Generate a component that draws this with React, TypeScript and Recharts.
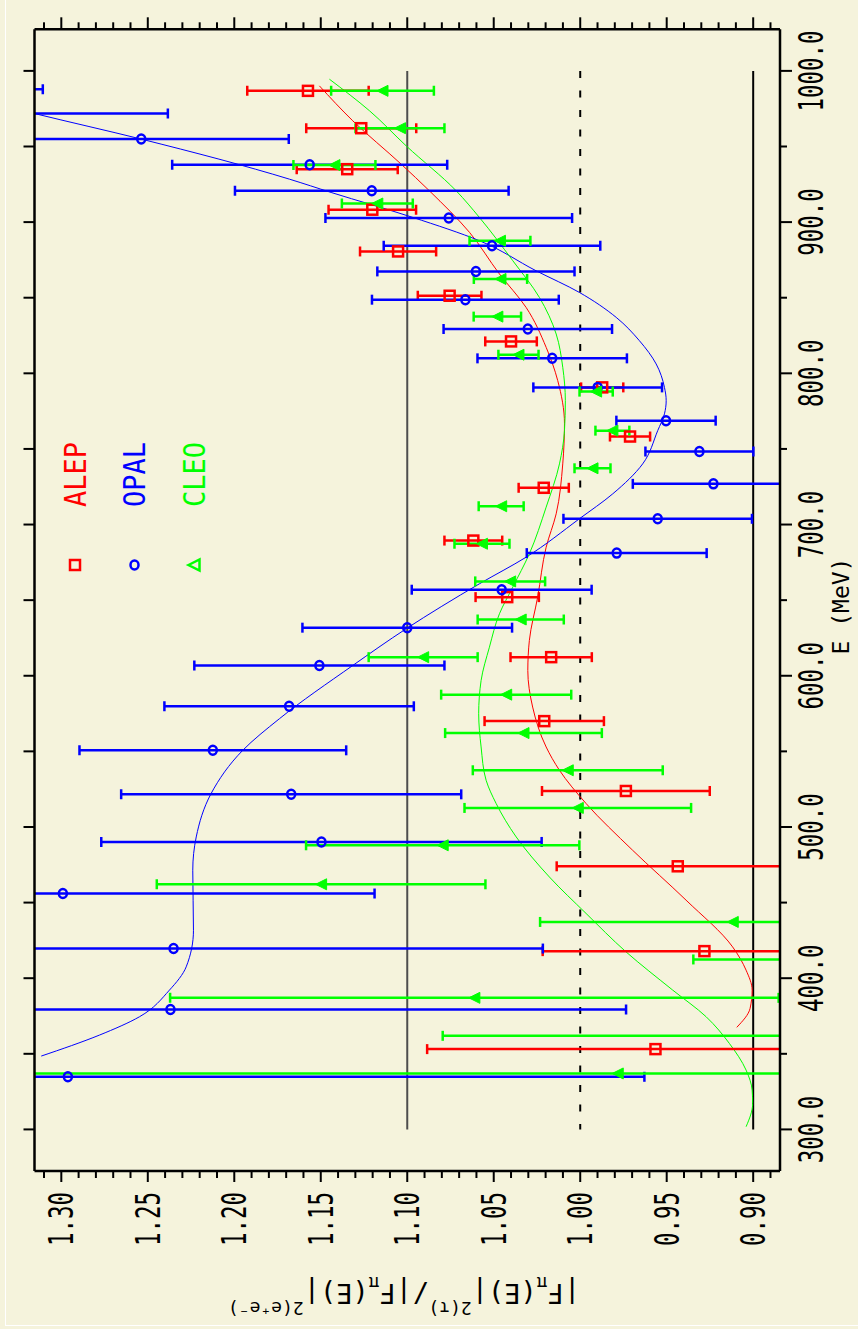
import React from 'react';
import { ComposedChart, XAxis, YAxis, Scatter, Line, ErrorBar, ReferenceLine } from 'recharts';

// the plot is drawn landscape (E along x) and then turned a quarter turn left
const W = 1329;
const H = 858;
const BG = '#f5f3dc';
const FONT = '"DejaVu Sans Mono", monospace';
const RED = '#ff0000';
const BLUE = '#0000ff';
const GREEN = '#00ff00';

// plot box inside the landscape chart
const PLOT = { left: 158, top: 34.5, width: 1141.7, height: 745.5 };

const E_TICKS = [300, 350, 400, 450, 500, 550, 600, 650, 700, 750, 800, 850, 900, 950, 1000];
const V_TICKS = [
  0.89, 0.9, 0.91, 0.92, 0.93, 0.94, 0.95, 0.96, 0.97, 0.98, 0.99, 1.0, 1.01, 1.02, 1.03, 1.04, 1.05,
  1.06, 1.07, 1.08, 1.09, 1.1, 1.11, 1.12, 1.13, 1.14, 1.15, 1.16, 1.17, 1.18, 1.19, 1.2, 1.21, 1.22,
  1.23, 1.24, 1.25, 1.26, 1.27, 1.28, 1.29, 1.3, 1.31
];

const SERIES = ['ALEP', 'OPAL', 'CLEO'];
const COLORS = [RED, BLUE, GREEN];

// ALEP
const ALEP_E = [986.8, 962.1, 935.0, 908.2, 880.6, 851.3, 821.1, 790.7, 758.2, 724.3, 689.4, 652.0, 612.3, 570.0, 523.8, 474.0, 417.9, 353.1];
const ALEP_V = [1.1574, 1.1266, 1.1347, 1.1202, 1.1053, 1.0755, 1.04, 0.9873, 0.9712, 1.0211, 1.0618, 1.0422, 1.0168, 1.0208, 0.9736, 0.9436, 0.9282, 0.9565];
const ALEP_ERR = [0.0351, 0.0318, 0.0292, 0.0253, 0.022, 0.0184, 0.0149, 0.0122, 0.0116, 0.0145, 0.0167, 0.0183, 0.0235, 0.0345, 0.0485, 0.07, 0.0935, 0.132];

// OPAL
const OPAL_E = [987.9, 971.8, 954.9, 937.9, 920.7, 902.7, 884.4, 867.4, 848.7, 829.3, 809.9, 790.7, 768.7, 748.3, 726.9, 703.8, 681.1, 656.9, 631.8, 606.8, 579.8, 550.7, 521.6, 490.1, 456.0, 419.6, 379.3, 334.8];
const OPAL_V = [1.4, 1.33, 1.2538, 1.1564, 1.1205, 1.076, 1.051, 1.0603, 1.0664, 1.0303, 1.0162, 0.9899, 0.9504, 0.9311, 0.923, 0.9552, 0.9789, 1.0454, 1.1, 1.1508, 1.1683, 1.2124, 1.1671, 1.1496, 1.2991, 1.2351, 1.2369, 1.2962];
const OPAL_ERR = [0.0893, 0.0916, 0.0853, 0.0795, 0.0791, 0.0713, 0.0626, 0.057, 0.054, 0.0487, 0.0432, 0.0372, 0.0287, 0.0312, 0.0466, 0.0545, 0.052, 0.052, 0.0606, 0.0723, 0.0721, 0.0771, 0.0983, 0.1273, 0.1802, 0.2135, 0.2634, 0.3333];

// CLEO
const CLEO_E = [986.8, 962.1, 937.7, 912.3, 887.7, 862.4, 837.5, 812.3, 787.9, 762.1, 737.2, 712.1, 687.3, 662.4, 637.2, 612.3, 587.5, 562.1, 537.5, 512.6, 487.9, 462.1, 437.2, 412.4, 387.0, 361.9, 337.0];
const CLEO_V = [1.1143, 1.1042, 1.1421, 1.1173, 1.0464, 1.0461, 1.0479, 1.0357, 0.9908, 0.9814, 0.9929, 1.0457, 1.0568, 1.0405, 1.0344, 1.0908, 1.0428, 1.0328, 1.0072, 1.0014, 1.0795, 1.1498, 0.9118, 0.86, 1.0612, 0.86, 0.9783];
const CLEO_ERR = [0.0297, 0.0257, 0.0237, 0.0205, 0.0176, 0.0154, 0.0137, 0.0116, 0.0096, 0.0098, 0.0104, 0.013, 0.0159, 0.0202, 0.0249, 0.0315, 0.0376, 0.0453, 0.0549, 0.0655, 0.079, 0.095, 0.1114, 0.0746, 0.1759, 0.2195, 0.36];

// fitted curves
const OPAL_FIT_E = [1000, 971.8, 954.9, 928.4, 919.6, 903.1, 887.7, 867.8, 853.5, 837.0, 821.6, 806.2, 790.7, 781.9, 773.2, 762.1, 740.1, 720.3, 703.8, 678.4, 660.8, 631.1, 606.8, 571.6, 550.7, 522.1, 493.4, 471.4, 431.7, 407.5, 392.1, 374.5, 362.4, 348.5];
const OPAL_FIT_V = [1.41, 1.3155, 1.2538, 1.1681, 1.144, 1.0968, 1.0583, 1.0255, 1.0005, 0.9792, 0.9658, 0.9561, 0.9513, 0.9503, 0.9513, 0.9552, 0.9639, 0.9812, 1.0005, 1.0313, 1.0583, 1.1006, 1.1315, 1.1739, 1.1951, 1.2134, 1.222, 1.224, 1.2236, 1.2278, 1.2375, 1.2548, 1.2779, 1.3116];
const ALEP_FIT_E = [990.1, 967.0, 938.3, 920.7, 893.2, 865.7, 843.6, 817.2, 795.2, 766.6, 740.1, 707.1, 685.0, 652.0, 623.4, 603.5, 579.3, 552.9, 537.5, 515.5, 484.6, 451.6, 420.7, 405.3, 392.1, 380.0, 367.5];
const ALEP_FIT_V = [1.1508, 1.1315, 1.1035, 1.0872, 1.064, 1.0467, 1.0313, 1.0197, 1.013, 1.0091, 1.0101, 1.0139, 1.0197, 1.0246, 1.0294, 1.0303, 1.0275, 1.0197, 1.012, 0.9966, 0.9697, 0.9388, 0.9119, 0.9041, 0.9006, 0.9018, 0.9095];
const CLEO_FIT_E = [994.5, 973.6, 950.4, 920.7, 903.1, 874.5, 850.2, 826.0, 804.0, 781.9, 762.1, 740.1, 711.5, 680.7, 658.6, 641.0, 618.9, 596.9, 574.9, 552.9, 530.9, 515.5, 493.4, 466.9, 442.8, 417.4, 392.1, 374.5, 356.9, 339.2, 326.0, 317.2, 301.8];
const CLEO_FIT_V = [1.145, 1.1218, 1.1006, 1.0717, 1.0583, 1.039, 1.0236, 1.0139, 1.0101, 1.0086, 1.0091, 1.012, 1.0197, 1.0294, 1.039, 1.0467, 1.0525, 1.0573, 1.0587, 1.0573, 1.0544, 1.0486, 1.037, 1.0178, 0.9966, 0.9735, 0.9465, 0.9272, 0.9138, 0.9041, 0.9006, 0.9003, 0.9041];

const toPoints = (es: number[], vs: number[], errs?: number[]) =>
  es.map((e, i) => ({ e, v: vs[i], err: errs ? errs[i] : 0 })).sort((a, b) => a.e - b.e);

const alep = toPoints(ALEP_E, ALEP_V, ALEP_ERR);
const opal = toPoints(OPAL_E, OPAL_V, OPAL_ERR);
const cleo = toPoints(CLEO_E, CLEO_V, CLEO_ERR);
const alepFit = toPoints(ALEP_FIT_E, ALEP_FIT_V);
const opalFit = toPoints(OPAL_FIT_E, OPAL_FIT_V);
const cleoFit = toPoints(CLEO_FIT_E, CLEO_FIT_V);

const isMajorV = (v: number) => Math.round(v * 100) % 5 === 0;

const Square = ({ cx, cy, color = RED }: any) => (
  <rect x={cx - 5} y={cy - 5} width={10} height={10} fill="none" stroke={color} strokeWidth={2.5} />
);
const Ring = ({ cx, cy, color = BLUE }: any) => (
  <ellipse cx={cx} cy={cy} rx={4.5} ry={4} fill="none" stroke={color} strokeWidth={2.5} />
);
const Tri = ({ cx, cy, color = GREEN, open = false }: any) => (
  <path
    d={`M${cx},${cy - 5.5}L${cx + 5.5},${cy + 5.5}L${cx - 5.5},${cy + 5.5}Z`}
    fill={open ? 'none' : color}
    stroke={color}
    strokeWidth={open ? 2.5 : 1}
  />
);

const bottomTick = (props: any) => {
  const { x, y, payload } = props;
  const major = payload.value % 100 === 0;
  return (
    <g>
      <line x1={x} y1={y} x2={x} y2={y + (major ? 12 : 7)} stroke="#000" strokeWidth={2} />
      {major && (
        <text transform={`translate(${x},${y + 43}) scale(0.66,1)`} textAnchor="middle" fontFamily={FONT} fontSize={34} fill="#000">
          {payload.value.toFixed(1)}
        </text>
      )}
    </g>
  );
};
const topTick = (props: any) => {
  const { x, y } = props;
  return <line x1={x} y1={y} x2={x} y2={y - 11} stroke="#000" strokeWidth={2} />;
};
const leftTick = (props: any) => {
  const { x, y, payload } = props;
  const major = isMajorV(payload.value);
  return (
    <g>
      <line x1={x} y1={y} x2={x - (major ? 11 : 7)} y2={y} stroke="#000" strokeWidth={2} />
      {major && (
        <text transform={`translate(${x - 21},${y + 12}) scale(0.66,1)`} textAnchor="end" fontFamily={FONT} fontSize={34} fill="#000">
          {payload.value.toFixed(2)}
        </text>
      )}
    </g>
  );
};
const rightTick = (props: any) => {
  const { x, y, payload } = props;
  const major = isMajorV(payload.value);
  return <line x1={x} y1={y} x2={x + (major ? 12 : 7)} y2={y} stroke="#000" strokeWidth={2} />;
};

const frame = { stroke: '#000', strokeWidth: 2.5 };
const axisIds = { xAxisId: 'e', yAxisId: 'v' };

export default function App() {
  return (
    <div style={{ position: 'absolute', left: 0, top: 0, width: H, height: W, overflow: 'hidden', background: BG }}>
      {/* error bars running past the frame are cut at it, as in the original */}
      <style>{`.recharts-scatter, .recharts-errorBars, .recharts-errorBar { clip-path: url(#plot-box-clip); }`}</style>
      <div
        style={{
          position: 'absolute',
          left: 0,
          top: 0,
          width: W,
          height: H,
          transformOrigin: '0 0',
          transform: `translateY(${W}px) rotate(-90deg)`
        }}
      >
        <ComposedChart width={W} height={H} margin={{ top: 14.5, right: 9.3, bottom: 18, left: 58 }}>
          <XAxis xAxisId="e" dataKey="e" type="number" orientation="bottom" domain={[272.5, 1027.5]} ticks={E_TICKS}
            interval={0} allowDataOverflow height={60} axisLine={frame} tickLine={false} tickSize={0} tickMargin={0} tick={bottomTick} />
          <XAxis xAxisId="et" dataKey="e" type="number" orientation="top" domain={[272.5, 1027.5]} ticks={E_TICKS}
            interval={0} allowDataOverflow height={20} axisLine={frame} tickLine={false} tickSize={0} tickMargin={0} tick={topTick} />
          <YAxis yAxisId="v" dataKey="v" type="number" orientation="left" domain={[0.8845, 1.3155]} ticks={V_TICKS}
            interval={0} allowDataOverflow width={100} axisLine={frame} tickLine={false} tickSize={0} tickMargin={0} tick={leftTick} />
          <YAxis yAxisId="vr" dataKey="v" type="number" orientation="right" domain={[0.8845, 1.3155]} ticks={V_TICKS}
            interval={0} allowDataOverflow width={20} axisLine={frame} tickLine={false} tickSize={0} tickMargin={0} tick={rightTick} />

          <ReferenceLine {...axisIds} segment={[{ x: 1000, y: 1.1 }, { x: 300, y: 1.1 }]} stroke="#4d4d4d" strokeWidth={2} />
          <ReferenceLine {...axisIds} segment={[{ x: 1000, y: 1.0 }, { x: 300, y: 1.0 }]} stroke="#000" strokeWidth={2} strokeDasharray="7 12.5" />
          <ReferenceLine {...axisIds} segment={[{ x: 1000, y: 0.9 }, { x: 300, y: 0.9 }]} stroke="#000" strokeWidth={2} />

          <Line {...axisIds} data={alepFit} dataKey="v" type="monotone" stroke={RED} strokeWidth={1} dot={false} isAnimationActive={false} />
          <Line {...axisIds} data={opalFit} dataKey="v" type="monotone" stroke={BLUE} strokeWidth={1} dot={false} isAnimationActive={false} />
          <Line {...axisIds} data={cleoFit} dataKey="v" type="monotone" stroke={GREEN} strokeWidth={1} dot={false} isAnimationActive={false} />

          <Scatter {...axisIds} name="ALEP" data={alep} dataKey="v" shape={(p: any) => <Square {...p} />} isAnimationActive={false}>
            <ErrorBar dataKey="err" direction="y" width={5} stroke={RED} strokeWidth={2.5} />
          </Scatter>
          <Scatter {...axisIds} name="OPAL" data={opal} dataKey="v" shape={(p: any) => <Ring {...p} />} isAnimationActive={false}>
            <ErrorBar dataKey="err" direction="y" width={5} stroke={BLUE} strokeWidth={2.5} />
          </Scatter>
          <Scatter {...axisIds} name="CLEO" data={cleo} dataKey="v" shape={(p: any) => <Tri {...p} />} isAnimationActive={false}>
            <ErrorBar dataKey="err" direction="y" width={5} stroke={GREEN} strokeWidth={2.5} />
          </Scatter>
        </ComposedChart>

        {/* legend, axis titles */}
        <svg width={W} height={H} style={{ position: 'absolute', left: 0, top: 0, pointerEvents: 'none' }}>
          <defs>
            <clipPath id="plot-box-clip">
              <rect x={PLOT.left} y={PLOT.top} width={PLOT.width} height={PLOT.height} />
            </clipPath>
          </defs>
          {SERIES.map((name, i) => {
            const y = 75 + i * 59.5;
            const Mark = [Square, Ring, Tri][i];
            return (
              <g key={name}>
                <Mark cx={764} cy={y} color={COLORS[i]} open />
                <text transform={`translate(822,${y + 10.5}) scale(0.9,1)`} fontFamily={FONT} fontSize={30} fill={COLORS[i]}>
                  {name}
                </text>
              </g>
            );
          })}
          <text x={723} y={849} textAnchor="middle" fontFamily={FONT} fontSize={23} fill="#000">
            E (MeV)
          </text>
          <text transform="translate(45,404) rotate(-90)" textAnchor="middle" fontFamily={FONT} fontSize={27} fill="#000">
            |F<tspan fontSize={18} dy={7}>π</tspan>
            <tspan dy={-7}>(E)|</tspan>
            <tspan fontSize={18} dy={-18}>2(τ)</tspan>
            <tspan dy={18}>/|F</tspan>
            <tspan fontSize={18} dy={7}>π</tspan>
            <tspan dy={-7}>(E)|</tspan>
            <tspan fontSize={18} dy={-18}>2(e⁺e⁻)</tspan>
          </text>
        </svg>
      </div>
      <div style={{ position: 'absolute', left: 5, top: -2, width: H, height: W - 1, borderLeft: '1.5px solid #fff', borderBottom: '1.5px solid #fff', boxSizing: 'border-box' }} />
    </div>
  );
}
